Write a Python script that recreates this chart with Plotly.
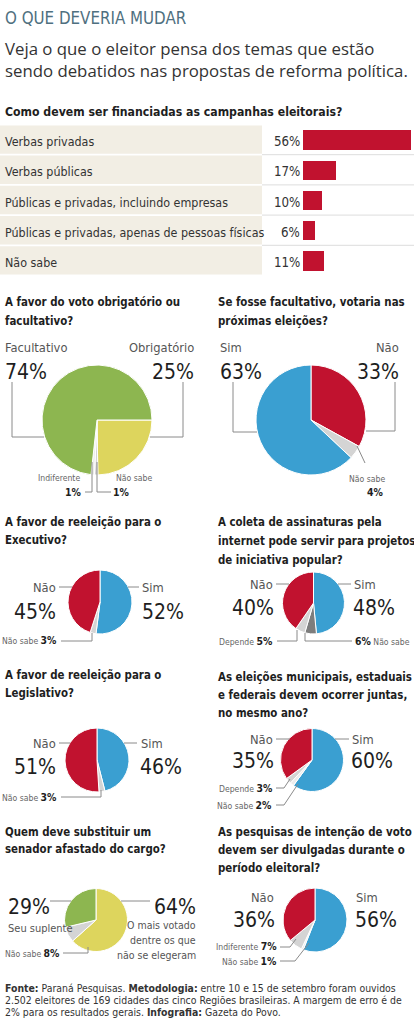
import plotly.graph_objects as go

# ---------------- data ----------------
bar_categories = ["Verbas privadas", "Verbas públicas",
                  "Públicas e privadas, incluindo empresas",
                  "Públicas e privadas, apenas de pessoas físicas", "Não sabe"]
bar_values = [56, 17, 10, 6, 11]

voto_labels = ["Obrigatório", "Não sabe", "Indiferente", "Facultativo"]
voto_values = [25, 1, 1, 74]

votaria_labels = ["Não", "Não sabe", "Sim"]
votaria_values = [33, 4, 63]

exec_labels = ["Sim", "Não sabe", "Não"]
exec_values = [52, 3, 45]

coleta_labels = ["Sim", "Não sabe", "Depende", "Não"]
coleta_values = [48, 6, 5, 40]

legis_labels = ["Sim", "Não sabe", "Não"]
legis_values = [46, 3, 51]

juntas_labels = ["Sim", "Não sabe", "Depende", "Não"]
juntas_values = [60, 2, 3, 35]

senador_labels = ["O mais votado dentre os que não se elegeram", "Não sabe", "Seu suplente"]
senador_values = [64, 8, 29]

pesquisas_labels = ["Sim", "Não sabe", "Indiferente", "Não"]
pesquisas_values = [56, 1, 7, 36]

# ---------------- styles ----------------
W, H = 414, 1024
NARROW = "DejaVu Sans Condensed, Liberation Sans Narrow, sans-serif"
SANS = "Open Sans, Noto Sans, sans-serif"
RED = "#c1122f"
BLUE = "#3a9fd1"
GREEN = "#8db650"
YELLOW = "#ddd55d"
LGRAY = "#d4d4d4"
DGRAY = "#7d7d7d"
WHITEISH = "#ececec"
LINE = "#8a8a8a"
DARK = "#1e1e1e"
MID = "#555555"

Q_SIZE = 11.4      # pie question titles
BIG = 21           # big percentages
WORD = 12.8        # Sim / Não labels
SMALL = 8.6        # small gray labels
SMALLNUM = 10.4    # small bold numbers
RC = 216           # right column x


def X(px):
    return px / W


def Y(py):
    return 1 - py / H


annotations = []
shapes = []


def txt(x, y, text, size, color=DARK, anchor="left", family=NARROW):
    annotations.append(dict(x=X(x), y=Y(y), xref="paper", yref="paper", text=text,
                            showarrow=False, xanchor=anchor, yanchor="middle", align=anchor,
                            font=dict(family=family, size=size, color=color)))


def question(x, ys, lines, size=Q_SIZE):
    for y, line in zip(ys, lines):
        txt(x, y, f"<b>{line}</b>", size, DARK)


def poly(*pts):
    for (x0, y0), (x1, y1) in zip(pts[:-1], pts[1:]):
        shapes.append(dict(type="line", xref="paper", yref="paper",
                           x0=X(x0), y0=Y(y0), x1=X(x1), y1=Y(y1),
                           line=dict(color=LINE, width=1)))


def pct(v):
    return f"{v}%"


def small(label, v, num_first=False):
    num = f"<span style='font-size:{SMALLNUM}px;color:#1e1e1e'><b>{v}%</b></span>"
    lab = f"<span style='color:#666'>{label}</span>"
    return f"{num} {lab}" if num_first else f"{lab} {num}"


fig = go.Figure()

# ---------------- header ----------------
txt(3, 18, "O QUE DEVERIA MUDAR", 16.8, "#4f7080")
txt(3, 59, "Veja o que o eleitor pensa dos temas que estão<br>sendo debatidos nas propostas de reforma política.",
    16.8, "#333333", family=SANS)

# ---------------- bar section ----------------
question(3, [112], ["Como devem ser financiadas as campanhas eleitorais?"], size=12.2)

row_top, row_h = 124.5, 30.2
fig.add_trace(go.Bar(x=bar_values, y=bar_categories, orientation="h",
                     marker=dict(color=RED, line=dict(width=0)), width=0.64,
                     hoverinfo="skip", showlegend=False))
for i, cat in enumerate(bar_categories):
    shapes.append(dict(type="rect", xref="paper", yref="y", x0=0, x1=X(262),
                       y0=i - 0.47, y1=i + 0.47, fillcolor="#f2eee4",
                       line=dict(width=0), layer="below"))
    annotations.append(dict(x=X(3), y=cat, xref="paper", yref="y", text=cat,
                            showarrow=False, xanchor="left", yanchor="middle", yshift=-2,
                            font=dict(family=NARROW, size=12.4, color="#333333")))
    annotations.append(dict(x=0, y=cat, xref="x", yref="y", text=pct(bar_values[i]),
                            showarrow=False, xanchor="right", yanchor="middle", xshift=-1,
                            yshift=-2, font=dict(family=NARROW, size=13.2, color="#333333")))
for i in range(4):
    shapes.append(dict(type="line", xref="paper", yref="y", x0=X(262), x1=1,
                       y0=i + 0.5, y1=i + 0.5, line=dict(color="#dddddd", width=1),
                       layer="below"))


# ---------------- pies ----------------
def pie(values, labels, colors, cx, cy, r, rotation=0):
    fig.add_trace(go.Pie(values=values, labels=labels, sort=False, direction="clockwise",
                         rotation=rotation, textinfo="none", hoverinfo="skip",
                         showlegend=False,
                         marker=dict(colors=colors, line=dict(color="white", width=1)),
                         domain=dict(x=[X(cx - r), X(cx + r)], y=[Y(cy + r), Y(cy - r)])))


# Pie 1: voto obrigatório ou facultativo
question(3, [302, 321], ["A favor do voto obrigatório ou", "facultativo?"])
pie(voto_values, voto_labels, [YELLOW, LGRAY, WHITEISH, GREEN], 97, 420, 55, rotation=90)
txt(3, 347, voto_labels[3], WORD, MID)
txt(3, 372, pct(voto_values[3]), BIG, DARK)
txt(196, 347, voto_labels[0], WORD, MID, anchor="right")
txt(196, 372, pct(voto_values[0]), BIG, DARK, anchor="right")
poly((12, 382), (12, 437), (44, 437))
poly((183, 382), (183, 437), (150, 437))
txt(82, 478, voto_labels[2], SMALL, "#666666", anchor="right")
txt(84, 492, f"<b>{pct(voto_values[2])}</b>", SMALLNUM, DARK, anchor="right")
txt(114, 478, voto_labels[1], SMALL, "#666666")
txt(111, 492, f"<b>{pct(voto_values[1])}</b>", SMALLNUM, DARK)
poly((92, 462), (92, 492), (85, 492))
poly((97, 462), (97, 492), (111, 492))

# Pie 2: votaria
question(RC, [302, 321], ["Se fosse facultativo, votaria nas", "próximas eleições?"])
pie(votaria_values, votaria_labels, [RED, LGRAY, BLUE], 311, 420, 55)
txt(218, 347, votaria_labels[2], WORD, MID)
txt(218, 372, pct(votaria_values[2]), BIG, DARK)
txt(401, 347, votaria_labels[0], WORD, MID, anchor="right")
txt(401, 372, pct(votaria_values[0]), BIG, DARK, anchor="right")
poly((233, 382), (233, 432), (257, 432))
poly((395, 382), (395, 431), (366, 431))
poly((357, 446), (365, 463))
txt(387, 479, votaria_labels[1], SMALL, "#666666", anchor="right")
txt(386, 492, f"<b>{pct(votaria_values[1])}</b>", SMALLNUM, DARK, anchor="right")

# Pie 3: Executivo
question(3, [522, 540], ["A favor de reeleição para o", "Executivo?"])
pie(exec_values, exec_labels, [BLUE, LGRAY, RED], 100, 602, 32)
txt(58, 587, exec_labels[2], WORD, MID, anchor="right")
txt(58, 612, pct(exec_values[2]), BIG, DARK, anchor="right")
txt(140, 587, exec_labels[0], WORD, MID)
txt(140, 612, pct(exec_values[0]), BIG, DARK)
poly((59, 587), (72, 587))
poly((128, 587), (139, 587))
txt(59, 640, small(exec_labels[1], exec_values[1]), SMALL, "#666666", anchor="right")
poly((61, 641), (92, 641), (92, 633))

# Pie 4: coleta de assinaturas
question(RC, [522, 541, 560], ["A coleta de assinaturas pela",
                               "internet pode servir para projetos",
                               "de iniciativa popular?"])
pie(coleta_values, coleta_labels, [BLUE, DGRAY, LGRAY, RED], 313.5, 603, 31)
txt(275, 584, coleta_labels[3], WORD, MID, anchor="right")
txt(276, 608, pct(coleta_values[3]), BIG, DARK, anchor="right")
txt(352, 584, coleta_labels[0], WORD, MID)
txt(351, 608, pct(coleta_values[0]), BIG, DARK)
poly((276, 584), (289, 584))
poly((338, 584), (351, 584))
txt(275, 641, small(coleta_labels[2], coleta_values[2]), SMALL, "#666666", anchor="right")
txt(353, 641, small(coleta_labels[1], coleta_values[1], num_first=True), SMALL, "#666666")
poly((277, 641), (297, 641), (297, 630))
poly((352, 641), (305, 641), (305, 633))

# Pie 5: Legislativo
question(3, [675, 693], ["A favor de reeleição para o", "Legislativo?"])
pie(legis_values, legis_labels, [BLUE, LGRAY, RED], 97, 760, 32)
txt(58, 743, legis_labels[2], WORD, MID, anchor="right")
txt(58, 767, pct(legis_values[2]), BIG, DARK, anchor="right")
txt(139, 743, legis_labels[0], WORD, MID)
txt(138, 767, pct(legis_values[0]), BIG, DARK)
poly((59, 743), (70, 743))
poly((124, 743), (137, 743))
txt(59, 797, small(legis_labels[1], legis_values[1]), SMALL, "#666666", anchor="right")
poly((61, 797), (101, 797), (101, 790))

# Pie 6: eleições juntas
question(RC, [677, 695, 713], ["As eleições municipais, estaduais",
                               "e federais devem ocorrer juntas,",
                               "no mesmo ano?"])
pie(juntas_values, juntas_labels, [BLUE, WHITEISH, LGRAY, RED], 312, 760, 31.5)
txt(275, 739, juntas_labels[3], WORD, MID, anchor="right")
txt(276, 761, pct(juntas_values[3]), BIG, DARK, anchor="right")
txt(350, 739, juntas_labels[0], WORD, MID)
txt(349, 761, pct(juntas_values[0]), BIG, DARK)
poly((276, 739), (290, 739))
poly((335, 739), (349, 739))
txt(275, 788, small(juntas_labels[2], juntas_values[2]), SMALL, "#666666", anchor="right")
txt(274, 805, small(juntas_labels[1], juntas_values[1]), SMALL, "#666666", anchor="right")
poly((276, 788), (284, 788), (290, 779))
poly((276, 805), (284, 805), (298, 784))

# Pie 7: senador
question(3, [832, 849], ["Quem deve substituir um", "senador afastado do cargo?"])
pie(senador_values, senador_labels, [YELLOW, LGRAY, GREEN], 96, 920, 31.5)
txt(6, 907, pct(senador_values[2]), BIG, DARK)
txt(6, 928, senador_labels[2], 11, MID)
txt(198, 907, pct(senador_values[0]), BIG, DARK, anchor="right")
txt(198, 925, "O mais votado", 10.5, MID, anchor="right")
txt(198, 940, "dentre os que", 10.5, MID, anchor="right")
txt(198, 955, "não se elegeram", 10.5, MID, anchor="right")
poly((50, 901), (71, 901))
poly((121, 901), (150, 901))
txt(62, 953, small(senador_labels[1], senador_values[1]), SMALL, "#666666", anchor="right")
poly((63, 953), (88, 953), (88, 947))

# Pie 8: pesquisas
question(RC, [832, 850, 868], ["As pesquisas de intenção de voto",
                               "devem ser divulgadas durante o",
                               "período eleitoral?"])
pie(pesquisas_values, pesquisas_labels, [BLUE, WHITEISH, LGRAY, RED], 315, 920, 32)
txt(276, 897, pesquisas_labels[3], WORD, MID, anchor="right")
txt(277, 920, pct(pesquisas_values[3]), BIG, DARK, anchor="right")
txt(354, 897, pesquisas_labels[0], WORD, MID)
txt(353, 920, pct(pesquisas_values[0]), BIG, DARK)
txt(279, 946, small(pesquisas_labels[2], pesquisas_values[2]), SMALL, "#666666", anchor="right")
txt(279, 961, small(pesquisas_labels[1], pesquisas_values[1]), SMALL, "#666666", anchor="right")
poly((280, 947), (290, 947), (296, 939))
poly((280, 961), (295, 961), (309, 943))

# ---------------- footer ----------------
FOOT = 10.4
txt(3, 988, "<b>Fonte:</b> Paraná Pesquisas. <b>Metodologia:</b> entre 10 e 15 de setembro foram ouvidos", FOOT, "#333333")
txt(3, 1000, "2.502 eleitores de 169 cidades das cinco Regiões brasileiras. A margem de erro é de", FOOT, "#333333")
txt(3, 1012, "2% para os resultados gerais. <b>Infografia:</b> Gazeta do Povo.", FOOT, "#333333")

fig.update_layout(
    width=W, height=H, margin=dict(l=0, r=0, t=0, b=0, pad=0),
    paper_bgcolor="white", plot_bgcolor="rgba(0,0,0,0)",
    xaxis=dict(domain=[X(303), 1], range=[0, 57.7], visible=False, fixedrange=True),
    yaxis=dict(domain=[Y(row_top + 5 * row_h), Y(row_top)], type="category",
               categoryorder="array", categoryarray=bar_categories,
               range=[4.5, -0.5], visible=False, fixedrange=True),
    annotations=annotations, shapes=shapes, bargap=0,
)

fig.write_html("out.html")
